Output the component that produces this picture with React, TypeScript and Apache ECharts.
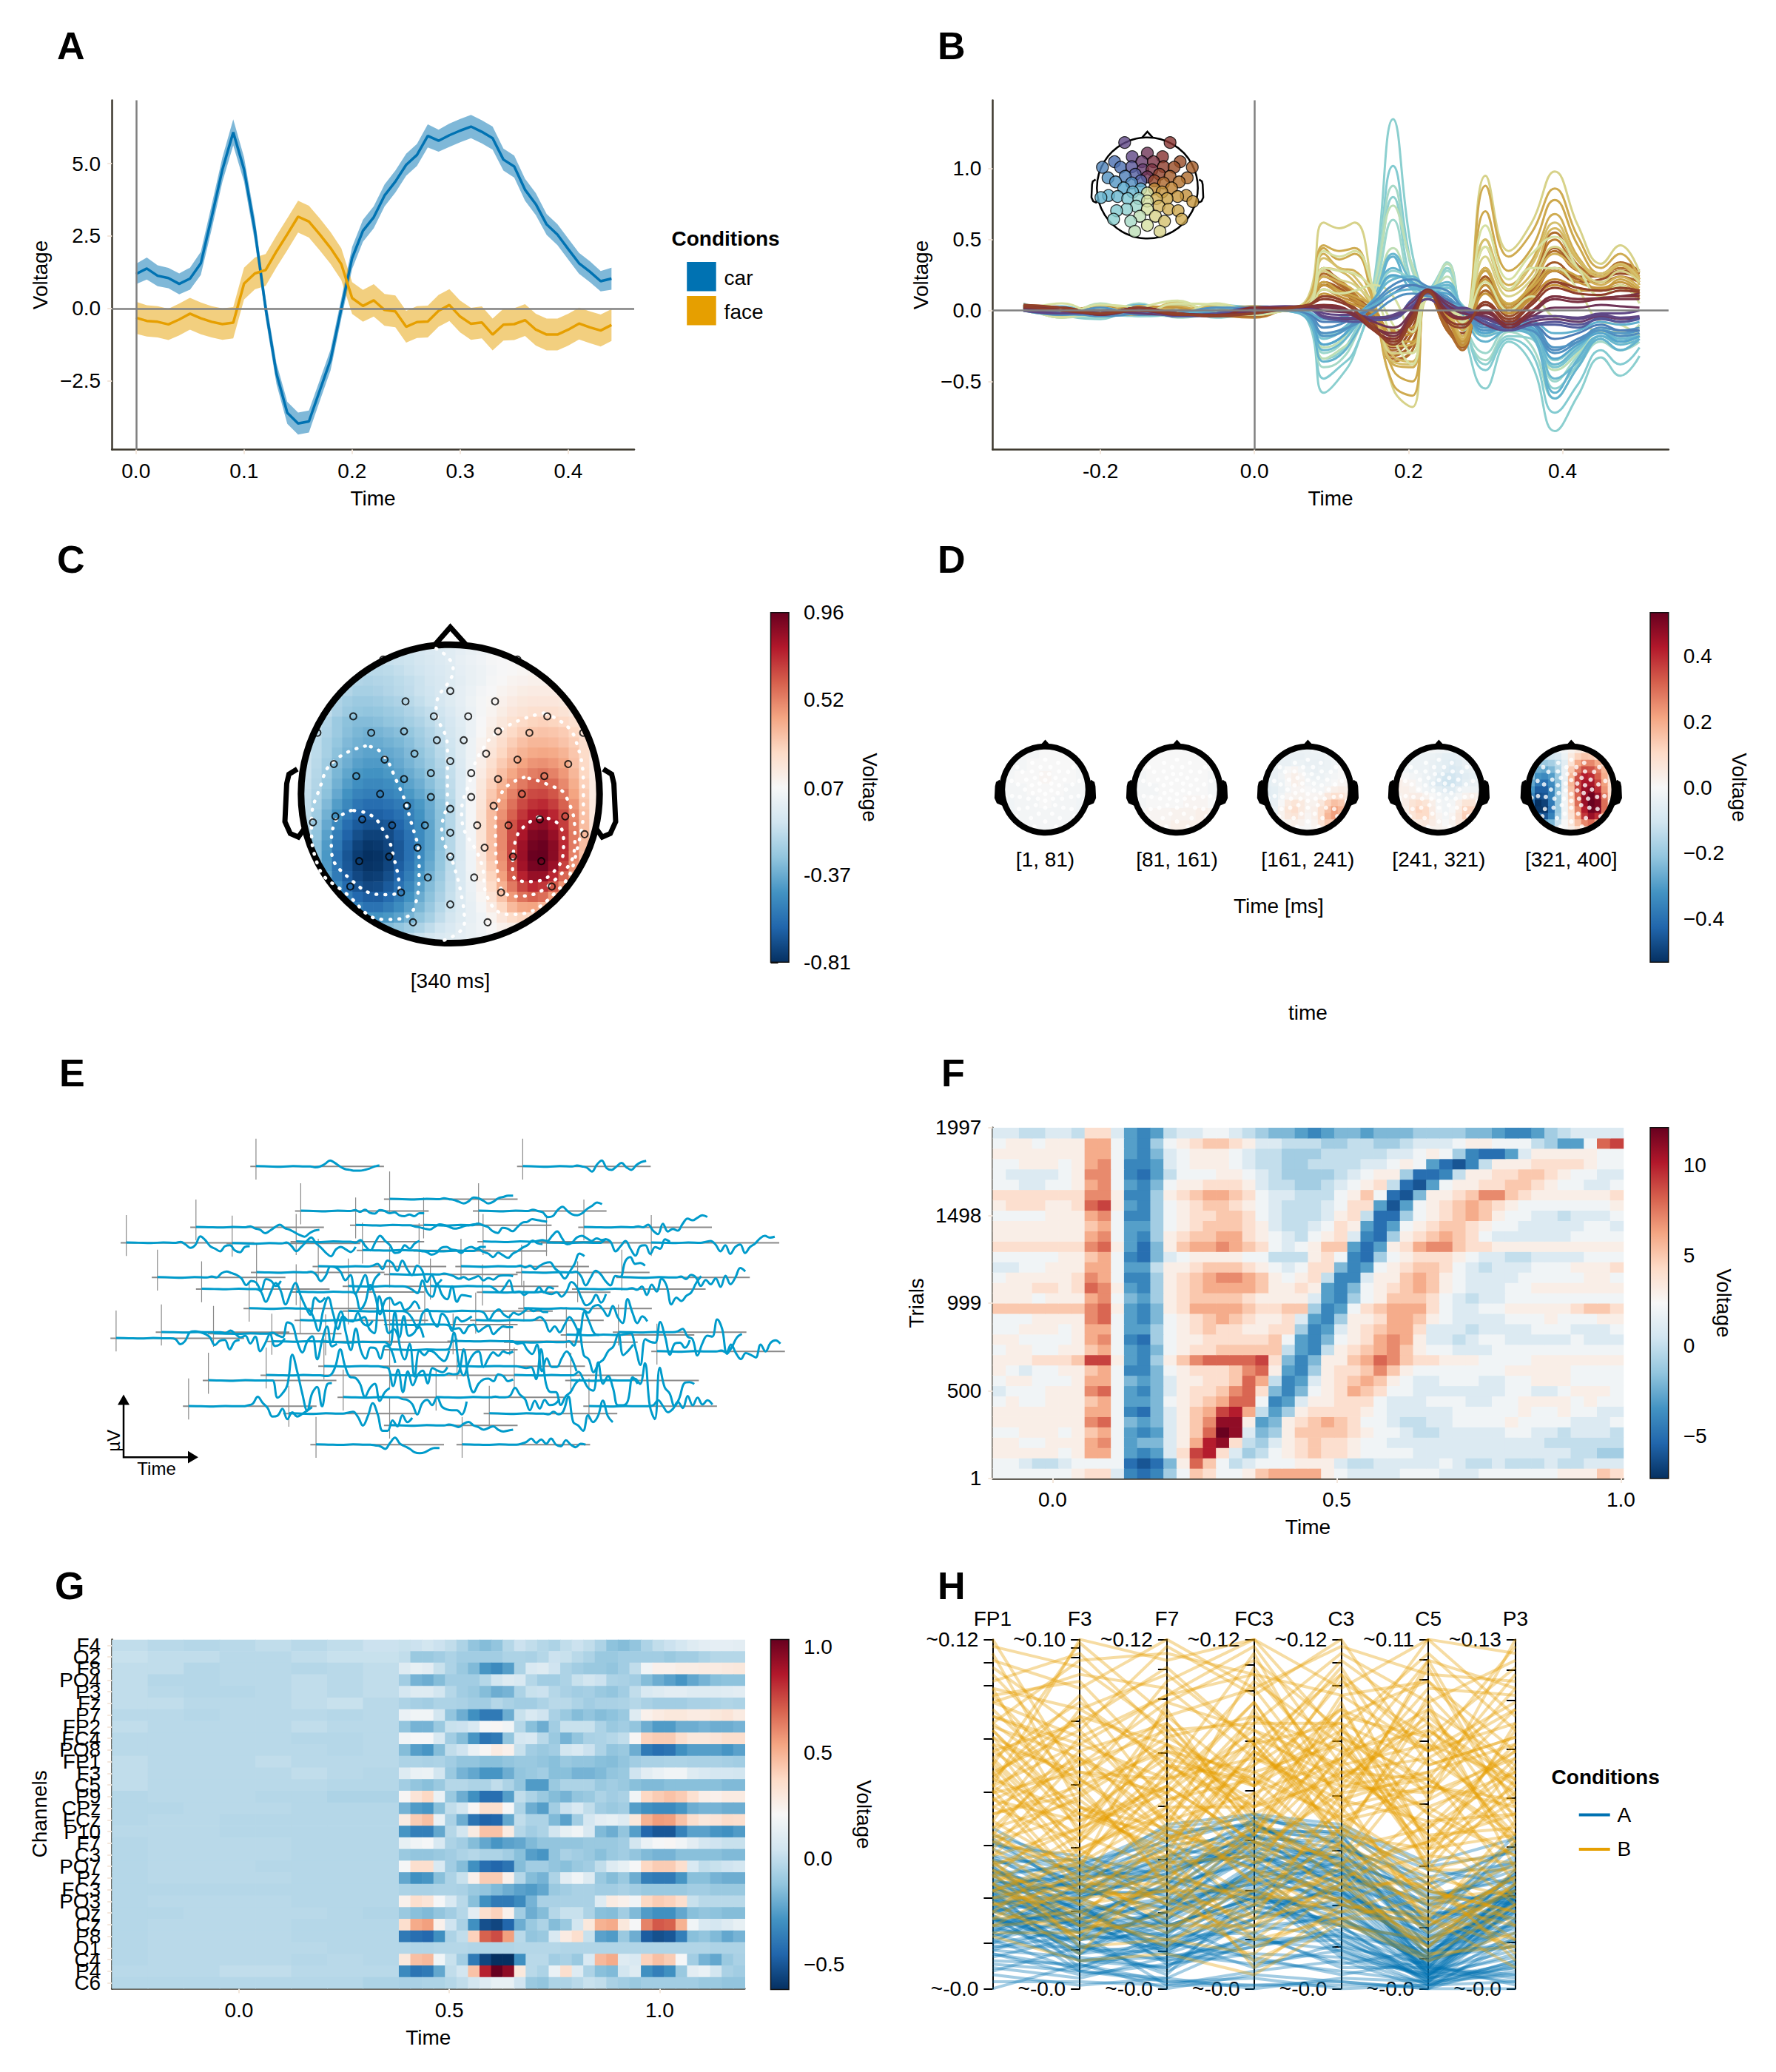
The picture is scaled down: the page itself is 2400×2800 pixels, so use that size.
import React, { useEffect, useRef } from "react";
import * as echarts from "echarts";

const FONT = "Liberation Sans";
const BLUE = "#0072B2";
const ORANGE = "#E69F00";
const RDBU = ["#053061","#2166ac","#4393c3","#92c5de","#d1e5f0","#f7f7f7","#fddbc7","#f4a582","#d6604d","#b2182b","#67001f"];

// ---------- A ----------
const A_TIME = [0,0.01,0.02,0.03,0.04,0.05,0.06,0.07,0.08,0.09,0.1,0.11,0.12,0.13,0.14,0.15,0.16,0.17,0.18,0.19,0.2,0.21,0.22,0.23,0.24,0.25,0.26,0.27,0.28,0.29,0.3,0.31,0.32,0.33,0.34,0.35,0.36,0.37,0.38,0.39,0.4,0.41,0.42,0.43,0.44];
const CAR_MEAN = [1.19,1.38,1.13,1.05,0.85,1.03,1.56,3.15,4.8,6.08,4.8,2.7,0,-2.25,-3.6,-3.97,-3.9,-2.84,-1.78,0,1.74,2.68,3.15,3.9,4.38,4.96,5.3,5.96,5.79,5.98,6.14,6.28,6.1,5.88,5.14,4.9,4.1,3.6,2.9,2.55,2.05,1.56,1.27,0.94,1.03];
const CAR_SE = [0.35,0.38,0.36,0.35,0.36,0.38,0.4,0.42,0.42,0.45,0.42,0.4,0.35,0.36,0.38,0.38,0.38,0.36,0.36,0.35,0.38,0.38,0.38,0.38,0.38,0.38,0.38,0.4,0.38,0.4,0.4,0.4,0.4,0.4,0.38,0.38,0.38,0.38,0.36,0.36,0.36,0.36,0.36,0.35,0.38];
const FACE_MEAN = [-0.32,-0.43,-0.46,-0.55,-0.38,-0.18,-0.34,-0.46,-0.54,-0.49,0.86,1.21,1.33,1.97,2.56,3.17,3,2.56,2.09,1.53,0.36,0.09,0.28,-0.05,-0.1,-0.63,-0.47,-0.45,-0.08,0.12,-0.28,-0.53,-0.48,-0.9,-0.56,-0.54,-0.4,-0.73,-0.9,-0.9,-0.73,-0.52,-0.65,-0.76,-0.57];
const FACE_SE = [0.55,0.54,0.54,0.54,0.55,0.55,0.55,0.54,0.54,0.54,0.55,0.55,0.55,0.55,0.55,0.55,0.55,0.55,0.55,0.55,0.55,0.55,0.56,0.55,0.55,0.55,0.55,0.55,0.55,0.55,0.55,0.55,0.55,0.55,0.55,0.55,0.55,0.55,0.55,0.55,0.55,0.55,0.55,0.55,0.55];

// ---------- electrode montage (head units, percent of radius) ----------
const ELEC_X = [0,-30,30,-11,12,-65,65,-89,-53,-31,32,53,89,-9,9,-24,24,-44,45,0,-78,79,-63,-13,14,63,-31,32,-47,48,-13,14,-29,29,0,-77,77,-59,60,-39,39,-17,18,-92,90,0,-22,23,-41,42,0,-61,61,-15,16,-67,68,-33,34,0,-25,25,-45,45];
const ELEC_Y = [69,62,62,52,52,52,52,41,41,42,42,41,41,36,36,27,27,23,23,22,20,20,12,14,14,12,10,10,0,0,-2,-2,-8,-8,-10,-15,-15,-17,-17,-21,-21,-21,-21,-19,-27,-26,-36,-36,-42,-42,-42,-45,-45,-56,-56,-62,-62,-66,-66,-74,-86,-86,90,90];

// ---------- B ----------
const B_TIME = [-0.3,-0.25,-0.2,-0.15,-0.1,-0.05,0,0.04,0.07,0.09,0.11,0.13,0.155,0.18,0.205,0.225,0.25,0.27,0.3,0.33,0.36,0.39,0.42,0.45,0.475,0.5];
const B_CHANNEL = [56,52,58,49,61,47,54,38,36,44,42,40, 12,19,26,30,13,22,28,25, 62,57,53,50,59,48,55,43,41,39,37,45,60,51,46, 33,29,27,23,21,18,31, 16,14,10,2,63, 1,5,3,15,11,17];
const B_ROWS = [
[5,-3,-6,3,-4,2,-2,0,-8,-58,-48,-30,20,135,40,15,33,-10,-55,-22,-38,-85,-60,-33,-46,-32],
[3,-5,2,-4,-2,4,2,0,-7,-48,-40,-28,15,102,30,12,30,-5,-42,-20,-30,-72,-52,-28,-38,-26],
[2,-2,-4,5,-5,-2,1,1,-7,-40,-36,-20,18,88,28,14,34,-8,-35,-15,-25,-62,-40,-22,-28,-22],
[4,0,-2,-4,2,-5,-2,0,-6,-34,-30,-15,14,80,18,10,30,-5,-38,-18,-20,-55,-38,-20,-28,-18],
[4,-4,5,-2,4,0,-3,1,-6,-34,-28,-18,16,74,32,12,33,-2,-18,-8,-18,-42,-30,-12,-18,-10],
[2,-2,-5,2,-4,2,0,0,-5,-30,-25,-10,12,64,15,10,28,-6,-30,-12,-15,-50,-32,-18,-20,-16],
[3,-5,-2,0,-2,-3,-2,1,-5,-26,-22,-8,12,44,18,14,24,-4,-18,-8,-12,-40,-28,-15,-24,-16],
[0,-3,-2,4,-4,2,3,1,-6,-28,-24,-12,8,40,20,16,20,2,-18,-14,-14,-48,-36,-18,-24,-20],
[2,-2,-3,0,-4,3,0,0,-5,-24,-20,-10,6,38,16,16,18,0,-16,-12,-16,-58,-34,-18,-22,-18],
[2,3,-4,-2,2,-2,2,0,-7,-36,-32,-18,8,30,18,12,16,-2,-22,-14,-18,-62,-40,-20,-28,-20],
[3,-3,0,-2,-4,0,2,1,-4,-18,-15,-6,8,28,22,16,14,4,-12,-10,-12,-35,-24,-12,-18,-14],
[0,-2,-3,2,-3,-2,-3,0,-4,-20,-16,-7,6,24,24,15,16,2,-12,-8,-12,-40,-28,-14,-20,-16],
[3,0,-2,2,-2,-3,-3,2,4,18,15,6,-8,-26,-12,14,-14,-20,14,-4,10,28,20,22,26,24],
[4,0,-3,2,0,-3,-4,1,4,20,16,8,-6,-30,-16,13,-12,-22,18,-2,14,34,24,24,28,26],
[4,2,-2,3,-2,-2,-4,1,5,24,18,10,-4,-32,-22,12,-14,-24,24,0,16,42,28,26,30,26],
[3,2,-2,0,0,-3,-5,1,5,28,22,12,-4,-36,-28,12,-10,-26,30,2,20,50,30,26,32,28],
[4,0,-3,2,-2,-4,-3,1,6,30,20,10,-2,-30,-24,14,-10,-26,24,0,18,44,28,24,28,22],
[3,0,0,2,-2,-3,-4,1,5,26,20,10,-6,-34,-28,13,-12,-28,30,2,20,55,32,26,34,28],
[2,2,-2,0,-2,-3,-3,1,4,18,14,6,-8,-28,-16,13,-14,-22,14,-2,12,30,22,20,24,20],
[2,0,-2,2,-3,-3,-3,1,3,10,8,2,-10,-22,-8,14,-6,-16,6,-6,6,20,14,14,16,14],
[3,-4,2,-2,5,-2,0,1,10,62,58,62,10,-55,-68,8,2,-8,95,42,62,98,60,33,46,27],
[4,-2,0,2,3,-3,2,0,8,46,42,44,4,-52,-60,12,0,-10,88,38,55,86,52,30,40,22],
[2,-3,3,0,-2,-3,-2,1,6,44,36,40,5,-42,-50,14,-2,-14,70,28,44,78,46,26,33,20],
[3,0,-2,2,0,-4,2,0,7,40,30,28,6,-38,-40,15,0,-18,50,18,35,68,38,24,32,24],
[4,-3,2,-2,6,-2,-3,1,5,37,30,24,2,-36,-38,13,2,-20,50,15,32,62,36,26,33,22],
[2,-2,-3,3,2,-3,-2,0,5,30,28,20,0,-32,-36,14,3,-22,45,14,26,58,35,24,32,18],
[0,-3,3,2,-2,0,-3,1,6,28,22,18,3,-30,-30,15,-3,-24,38,10,22,45,30,20,28,20],
[3,2,-2,-3,0,3,-2,0,4,24,20,14,0,-25,-24,12,-2,-20,30,5,18,40,28,18,24,16],
[2,-2,0,0,-3,2,0,2,5,20,14,10,2,-20,-22,14,-4,-22,28,4,16,30,24,14,22,14],
[4,-2,-2,3,2,-3,0,1,4,18,12,8,-2,-18,-16,12,-5,-25,22,2,12,28,20,16,20,12],
[2,0,3,-2,0,-2,2,0,3,15,10,6,0,-15,-15,11,-6,-24,18,0,10,22,16,14,18,10],
[3,-2,0,2,-3,0,3,1,3,12,8,4,-2,-14,-12,10,-6,-22,12,-2,8,18,14,15,16,8],
[0,5,-3,2,7,-3,-2,1,4,42,38,42,15,-20,-38,8,5,-5,60,22,40,52,30,10,18,5],
[3,-5,2,-2,5,4,-3,0,3,30,28,26,14,-10,-30,10,4,-8,45,15,30,30,15,-8,-10,-18],
[2,-2,4,2,-2,5,0,0,2,15,12,14,18,10,-15,12,8,-8,20,0,10,-5,-8,-15,-15,-12],
[2,-2,-3,0,-2,2,0,2,-3,-16,-14,-5,8,22,24,16,18,3,-14,-10,-14,-38,-26,-14,-20,-18],
[3,-3,-2,2,-3,0,-2,1,-4,-24,-20,-8,8,25,20,14,12,2,-16,-10,-12,-34,-24,-16,-22,-18],
[2,0,-4,-2,0,-2,2,1,-2,-12,-10,-4,6,18,22,17,14,2,-10,-8,-10,-28,-20,-14,-18,-16],
[4,-2,-3,2,-2,-3,0,0,-3,-18,-16,-8,4,15,18,14,10,0,-14,-12,-10,-26,-22,-14,-16,-14],
[0,-3,2,-3,-2,2,2,1,-3,-16,-14,-10,-2,8,12,10,8,0,-12,-12,-14,-30,-22,-12,-14,-12],
[2,-2,0,0,-4,-2,2,2,-2,-8,-8,-4,2,12,18,15,8,0,-8,-12,-10,-20,-16,-10,-14,-14],
[3,-2,-2,2,-2,0,-2,1,-1,-6,-5,-2,4,12,15,15,6,2,-6,-8,-8,-16,-14,-8,-10,-8],
[0,-2,-2,2,-4,-3,0,2,1,-5,-6,-5,-5,-5,8,14,4,0,-8,-12,-10,-10,-12,-5,-8,-6],
[2,-2,0,-2,-3,-3,2,3,2,-4,-6,-6,-6,-4,6,14,6,0,-10,-14,-8,-6,-8,-4,-6,-5],
[2,0,-3,0,-4,-2,2,2,2,-5,-7,-8,-7,-6,4,12,3,1,-8,-14,-10,-8,-10,-6,-8,-5],
[0,-2,-2,2,-3,-4,2,3,3,-2,-3,-3,-5,-4,2,8,1,2,-6,-10,-6,-4,-6,-3,-5,-4],
[2,0,-2,0,-3,-3,2,2,2,-4,-5,-5,-5,-3,3,8,2,1,-5,-8,-4,-4,-5,-2,-2,0],
[2,0,-2,2,-2,-3,0,2,3,0,-1,-2,-8,-12,0,14,4,-2,-4,-10,-4,2,2,4,3,2],
[3,2,-2,0,-3,-3,-2,2,3,2,1,-4,-12,-18,0,15,0,-5,-2,-12,-2,8,6,8,8,8],
[2,2,-3,2,-2,-4,2,2,3,4,3,-3,-14,-20,-2,14,-2,-6,0,-10,0,10,8,8,10,10],
[3,2,-3,0,-2,-3,-2,2,3,3,2,-3,-12,-16,-1,14,0,-5,-1,-12,-2,10,8,9,10,12],
[3,0,-2,2,-3,-3,-2,2,4,8,6,0,-14,-22,-4,14,-6,-10,4,-8,4,16,12,11,14,13],
[4,2,-2,0,-2,-4,-2,1,4,10,8,0,-12,-24,-6,13,-8,-12,6,-6,6,20,16,14,16,14],
];

// ---------- C ----------
const C_TOPO = [
[-10,-9,-8,-6,-5,-3,-1,1,3,4,5],
[-14,-13,-12,-11,-9,-7,-5,-3,0,2,4,6,7,8,9],
[-17,-17,-17,-16,-14,-12,-10,-8,-6,-4,-1,1,3,5,7,8,9,10,10],
[-17,-19,-20,-19,-18,-16,-14,-12,-9,-7,-4,-2,1,3,6,8,10,11,12,12,12],
[-16,-19,-22,-22,-21,-19,-17,-15,-12,-10,-7,-4,-1,2,5,7,10,12,14,15,15,15,14],
[-15,-20,-23,-25,-25,-24,-22,-20,-17,-14,-11,-8,-4,-1,3,6,9,12,15,17,18,18,18,17,15],
[-15,-21,-25,-27,-28,-27,-25,-23,-20,-17,-14,-10,-6,-2,2,6,10,14,18,20,22,22,22,20,17],
[-14,-19,-25,-29,-31,-31,-30,-28,-26,-23,-20,-16,-12,-8,-3,2,7,12,17,21,25,27,28,27,25,22,18],
[-14,-20,-25,-30,-33,-35,-34,-32,-30,-27,-23,-19,-14,-9,-4,2,8,14,20,25,29,32,33,32,30,26,20],
[-11,-16,-22,-27,-32,-35,-37,-37,-35,-33,-30,-25,-21,-15,-10,-4,3,10,17,23,29,34,37,37,36,33,29,23,15],
[-11,-16,-22,-29,-34,-38,-40,-40,-38,-36,-32,-28,-23,-17,-11,-4,3,11,19,26,33,38,41,42,41,38,32,24,15],
[-12,-17,-24,-31,-36,-41,-43,-43,-41,-38,-34,-30,-25,-19,-13,-5,3,13,22,30,37,43,47,48,46,42,34,25,15],
[-12,-18,-25,-33,-39,-44,-46,-46,-44,-41,-37,-33,-27,-21,-14,-6,4,15,25,34,42,48,53,55,52,46,37,26,15],
[-13,-19,-27,-35,-42,-47,-50,-50,-48,-45,-40,-36,-30,-23,-15,-6,5,17,28,38,47,54,60,61,58,50,40,28,16],
[-14,-20,-29,-38,-46,-52,-54,-54,-52,-49,-44,-39,-33,-25,-16,-6,6,18,31,42,52,60,66,67,63,55,43,30,16],
[-15,-22,-32,-42,-50,-57,-60,-60,-58,-55,-50,-44,-37,-28,-18,-6,6,19,33,45,56,66,72,74,69,60,47,32,17],
[-16,-24,-35,-46,-55,-62,-65,-65,-63,-59,-53,-46,-38,-29,-18,-7,6,20,35,48,60,71,79,81,75,65,50,34,17],
[-17,-26,-38,-50,-60,-67,-70,-70,-68,-63,-56,-48,-39,-29,-18,-7,6,20,35,50,64,76,85,87,81,69,52,35,18],
[-18,-28,-41,-54,-64,-71,-75,-75,-72,-66,-58,-49,-40,-29,-18,-7,5,20,35,50,66,80,90,92,85,72,54,36,18],
[-18,-30,-43,-56,-67,-75,-79,-78,-74,-68,-59,-50,-40,-29,-18,-7,5,19,34,50,67,83,93,95,88,74,54,35,17],
[-30,-44,-58,-69,-77,-81,-80,-75,-68,-59,-49,-39,-28,-17,-7,4,18,33,49,67,84,95,96,88,73,52,33],
[-28,-43,-57,-68,-76,-80,-79,-74,-66,-57,-47,-37,-27,-16,-6,4,16,30,47,65,82,92,93,84,68,48,30],
[-40,-55,-66,-73,-77,-76,-71,-63,-54,-44,-34,-25,-15,-6,3,14,27,44,61,76,85,85,75,59,40],
[-34,-49,-61,-69,-73,-72,-67,-59,-50,-41,-31,-23,-14,-6,2,11,24,39,54,67,74,71,62,47,30],
[-42,-54,-62,-66,-66,-61,-54,-46,-37,-29,-21,-13,-5,1,9,20,33,46,56,60,57,45,30],
[-44,-53,-58,-58,-54,-48,-41,-33,-26,-18,-11,-5,0,6,15,26,36,42,43,36,25],
[-40,-45,-46,-44,-40,-34,-28,-22,-15,-9,-4,0,4,10,18,24,27,26,18],
[-30,-31,-28,-24,-20,-15,-10,-6,-2,1,4,8,12,14,13],
[-16,-15,-12,-9,-6,-4,-1,1,3,5,6],
];
const C_TICKS = [0.96,0.52,0.07,-0.37,-0.81];
const C_CONTOURS = [
[[645,645],[590,690],[565,770],[550,880],[560,1000],[610,1090],[680,1170],[730,1140],[740,1000],[725,870],[700,750],[670,660],[645,645]],
[[620,840],[590,880],[585,950],[620,1050],[680,1095],[705,1080],[695,980],[680,910],[650,850],[620,840]],
[[770,350],[800,410],[770,530],[790,650],[790,800],[780,900],[800,1000],[815,1100],[820,1180],[780,1235]],
[[960,545],[890,590],[850,660],[830,750],[815,850],[850,1000],[860,1100],[900,1155],[980,1090],[1020,950],[1030,800],[1015,620],[960,545]],
[[925,740],[885,790],[875,900],[880,1050],[910,1100],[980,1050],[1015,930],[1000,800],[965,760],[925,740]],
[[950,860],[910,930],[905,1030],[930,1055],[975,1030],[995,940],[985,880],[950,860]],
];

// ---------- D ----------
const D_LABELS = ["[1, 81)","[81, 161)","[161, 241)","[241, 321)","[321, 400]"];
const D_TICKS = [-0.4,-0.2,0,0.2,0.4];
const D_TOPO_1 = [[-1,-1,0,0,0],[-1,-1,0,0,0,0,-1],[-1,0,0,1,0,0,-1],[-1,-1,0,0,0,-1,-1],[-2,-1,-1,0,-1,-1,-2],[-2,-1,-1,-1,-1,-1,-2],[-1,-1,-1,-1,-1]];
const D_TOPO_2 = [[0,0,0,0,0],[0,0,0,0,0,0,0],[-1,0,0,0,0,0,-1],[-1,-1,0,0,0,0,-1],[-1,0,0,0,1,1,0],[0,1,1,2,2,3,2],[1,2,3,3,3]];
const D_TOPO_3 = [
[-2,-3,-3,-3,-2,-2,-1],[-3,-4,-4,-4,-3,-3,-3,-2,-1],[-3,-4,-4,-3,-3,-4,-4,-4,-3,-2,0],
[-3,-4,-3,0,1,-1,-3,-4,-3,-3,-2,0,0],[-4,-4,-2,1,3,1,-2,-3,-3,-2,-1,0,0],[-5,-4,-3,0,3,2,-1,-2,-2,-1,0,1,1],
[-6,-5,-3,-1,1,1,0,-1,-1,1,3,4,3],[-6,-5,-2,1,2,2,1,1,2,6,9,8,5],[-6,-4,0,5,7,5,2,2,6,12,16,14,8],
[-6,-3,2,7,9,5,2,3,9,16,22,18,10],[-3,2,6,7,4,1,3,9,18,22,16],[0,2,3,2,0,2,8,14,14],[-1,0,0,0,1,4,6]];
const D_TOPO_4 = [
[0,-1,-1,-2,-2,-2,-2],[-2,-3,-3,-3,-4,-5,-5,-4,-3],[-2,-3,-3,-3,-4,-5,-6,-7,-6,-4,-3],
[0,-2,-3,-3,-3,-4,-5,-7,-8,-7,-5,-4,-3],[1,0,-1,-2,-3,-4,-7,-10,-10,-8,-6,-5,-4],[3,2,1,-1,-3,-5,-8,-11,-11,-8,-5,-4,-3],
[3,3,2,0,-2,-3,-5,-7,-7,-4,-2,-2,-2],[2,3,4,4,2,0,-2,-3,-3,-1,2,3,2],[1,4,7,9,7,3,-1,-2,-1,3,7,7,4],
[0,3,8,12,10,4,0,-2,0,5,12,12,5],[2,7,10,10,5,1,-1,1,6,13,9],[3,5,6,4,2,0,2,6,7],[1,2,2,2,1,2,2]];
const D_TOPO_5 = [
[-5,-3,-1,2,5,7,8],[-12,-10,-8,-3,5,12,15,14,10],[-18,-20,-18,-14,-6,8,20,26,26,20,12],
[-18,-26,-28,-24,-16,-4,14,28,35,34,28,18,8],[-22,-32,-34,-30,-20,-4,18,35,42,40,32,20,8],[-28,-38,-40,-34,-22,-5,18,36,44,44,36,22,8],
[-32,-44,-44,-36,-22,-4,16,36,46,48,40,24,8],[-36,-48,-46,-36,-20,-2,14,32,46,52,46,28,10],[-40,-53,-50,-38,-20,-2,12,30,46,53,50,30,10],
[-38,-52,-52,-40,-20,-2,10,26,42,52,50,30,10],[-40,-46,-36,-18,-2,8,22,38,46,40,20],[-26,-24,-12,0,6,16,26,30,20],[-8,-4,0,3,8,12,10]];

// ---------- E ----------
const E_BASELINE_T = [0,0.1,0.2,0.3,0.4];
const E_BASELINE = [1,0,-1,1,0];
const E_POST_T = [0.44,0.48,0.52,0.56,0.6,0.64,0.68,0.72,0.76,0.8,0.84,0.88,0.92,0.96,1];
const E_ORIGIN_X = [452,923,688,531,845,346,628,748,1031,223,410,523,853,965,1150,640,740,278,453,562,814,921,1098,688,356,615,760,852,1020,523,440,615,750,925,530,840,688,205,285,377,480,575,800,900,1000,1092,1160,688,572,807,368,470,688,908,1008,606,770,333,1040,510,864,688,558,816];
const E_ORIGIN_Y = [350,350,449,485,485,534,528,528,534,581,583,578,578,581,581,604,606,686,671,653,653,671,686,677,721,713,713,731,721,730,780,788,788,780,816,816,829,870,852,856,880,882,879,882,860,852,910,905,955,955,998,982,982,982,998,1049,1049,1076,1076,1098,1098,1134,1192,1192];
const E_TRACES = [
[0,-2,0,6,14,8,0,-6,-8,-10,-10,-8,-5,0,2],[2,0,-3,-12,4,14,-4,-8,0,8,-2,-8,3,10,13],[2,0,-2,-6,-10,-5,4,2,-4,-10,-6,2,5,8,8],
[2,-2,3,-4,-6,2,0,-5,-3,-10,-12,-8,-12,-5,-5],[3,0,-3,-14,-12,2,10,0,-8,-10,-5,5,12,20,16],[2,-3,-6,-14,-8,0,6,-2,-6,-12,-18,-22,-14,-8,-6],
[0,-3,-5,-8,-10,-4,2,0,-4,-8,-6,-2,0,2,3],[4,0,-4,-14,-18,-6,-8,-14,-4,6,8,14,12,10,8],[2,0,6,-8,-16,8,-10,-4,-8,8,20,16,22,28,24],
[2,-4,-12,-5,15,6,-8,-14,-20,-8,-6,-18,-22,-10,-8],[2,-6,-18,-8,4,14,0,-10,-22,-30,-14,-8,-14,-20,-8],[0,-2,4,-10,-20,-2,14,2,-8,-26,-24,-8,-16,-4,2],
[2,4,2,14,24,8,-6,-2,10,14,8,2,8,4,6],[0,8,2,-20,-8,4,-14,-30,-8,-6,-26,-10,-14,8,2],[2,4,-4,-20,-6,-26,-10,-4,-24,-10,-2,10,16,12,14],
[0,-2,-4,-10,-6,6,8,2,0,-6,4,8,4,8,8],[0,4,-2,-6,-14,-4,-10,-16,-6,0,8,14,24,18,16],[2,0,10,14,10,6,-2,-18,-8,-12,-30,-4,-8,-20,-8],
[2,-4,-20,-8,14,12,2,-18,-6,-50,-30,-6,-40,-14,-2],[2,6,-6,14,8,-10,14,-6,-20,2,-8,-36,-20,-40,-30],[0,2,-2,2,-6,2,8,10,-4,-14,-28,-12,6,30,24],
[2,-8,-30,-12,4,-4,-20,-30,-8,-10,26,36,20,22,16],[0,2,-4,6,0,-20,-6,-16,-2,-22,4,-16,0,22,14],[2,0,-4,-10,-6,-12,-8,-4,-14,-8,-12,-4,-2,-2,-4],
[0,-6,-30,-8,14,-4,-36,-10,14,-14,-40,-60,-20,-30,-20],[0,-2,-8,-16,14,-14,-24,6,-20,-30,0,-36,-20,-22,-24],[0,0,-6,-14,-2,14,-14,-12,-20,-14,-14,-2,-14,-2,-6],
[0,2,-2,-4,0,-10,2,24,14,-12,-30,-24,-6,-24,-4],[2,-2,6,-14,10,-6,24,8,-36,-20,-28,-16,-8,14,30],[0,-4,-40,-24,16,-10,-52,-20,-14,-30,-24,-42,-36,-22,-40],
[0,-2,-20,-52,-4,26,-12,-48,-18,-28,-30,-10,-34,-40,-28],[0,-4,-18,-40,-6,4,-20,-36,-6,-18,-46,-14,-24,-20,-12],[0,-4,-20,-4,4,-8,-14,-4,-8,-2,6,0,4,-2,-2],
[0,-2,-10,4,8,-2,-18,6,-20,-34,22,-10,-34,-18,-30],[0,2,8,-20,-30,56,14,-30,-20,-40,10,-36,-30,-14,-40],[0,2,8,-2,-26,-14,-28,-10,8,-8,-30,20,-4,-30,-34],
[0,-2,-10,-8,-20,-4,0,-16,-8,-2,-22,-12,-4,-6,-6],[0,-2,-14,-6,14,16,14,10,2,-16,-6,-4,-26,-8,-4],[0,0,-2,4,-4,-12,-8,-26,-10,-44,-26,-4,-32,-28,-14],
[0,2,-4,-8,26,20,-20,-44,-18,-6,-60,-16,16,-30,-24],[0,-2,40,70,20,-20,30,-20,-40,-14,-16,-40,-10,-16,-50],[0,0,-8,70,-8,-40,-4,-80,-20,-30,-20,-24,-36,-44,-20],
[0,0,-6,-4,-20,-30,-8,-70,-40,-60,-60,-40,-24,-40,-70],[0,2,-8,30,-30,-40,-70,-50,-40,-20,-10,20,-30,-20,-6],[0,2,4,-30,-70,-10,-16,-18,30,-4,-46,-20,-18,-30,-12],
[0,2,8,-10,-16,-54,-26,-8,-10,30,8,-50,-34,-12,-4],[0,0,2,-2,16,-4,-18,-4,-8,-14,16,0,20,26,18],[0,2,40,-30,-60,-30,-10,-4,-40,-20,-6,-14,-4,-8,-4],
[0,-2,-4,-46,-8,-60,-12,-44,-20,-10,-40,-4,-10,-14,-2],[0,0,-2,-4,-2,-30,40,-40,-60,-60,-90,-70,-60,-40,-30],[0,0,0,-40,-30,-10,60,20,-30,-70,-30,-15,-60,-10,-6],
[0,-2,0,20,60,20,-4,-6,-20,-50,-30,-20,-60,-40,-30],[0,4,2,6,60,-10,-40,-20,-10,-8,-14,2,-2,-14,-10],[0,0,8,-10,-30,-36,30,-20,-2,-30,-70,-70,-60,-5,-20],
[0,0,4,-8,40,-60,-90,30,-16,-30,-60,-40,-6,-4,-8],[0,-4,-6,-16,-40,-14,-6,-18,0,-22,-28,-30,-30,-40,-10],[0,2,0,0,4,22,6,-4,-30,-8,-26,-6,-18,-16,-4],
[0,2,6,22,8,-4,-24,-22,-6,-30,-14,-24,-18,-10,-2],[0,0,2,14,0,-14,-6,10,-4,24,2,20,4,14,4],[0,2,4,-8,-28,-6,24,-2,-40,-40,-16,-30,-4,-20,-10],
[0,-2,4,-2,6,40,-20,-28,-40,-4,-20,-6,30,-6,-20],[0,2,0,-4,4,8,0,-4,-10,-6,-2,-10,-14,-12,-10],[0,-2,-4,-10,4,16,2,-4,-10,-18,-20,-18,-12,-8,-8],
[0,2,6,14,4,12,2,14,0,-4,10,0,-6,2,0],
];

// ---------- F (rows from trial 1 upward) ----------
const F_TRIALS = [
[2,2,2,2,2,2,3,4,4,1,-4,-5,-4,-1,2,5,4,2,2,3,5,6,6,6,6,3,2,1,1,1,1,2,2,2,1,1,1,2,2,2,2,2,2,3,3,3,5,4],
[2,2,1,0,0,1,2,2,2,2,-5,-6,-5,-2,3,8,5,2,0,1,2,2,2,3,3,3,1,0,0,1,1,1,1,1,2,1,0,0,1,0,0,0,1,0,0,1,1,1],
[3,3,3,3,3,2,3,6,6,2,-3,-4,-3,1,4,9,10,4,1,-1,0,2,3,4,5,4,4,3,2,2,2,2,1,1,1,1,1,1,1,1,1,1,1,1,0,0,-1,-1],
[3,3,2,2,3,3,3,6,7,2,-3,-2,-2,1,3,6,10,11,4,0,-1,1,3,4,5,4,4,3,2,2,1,1,1,1,1,1,1,1,1,1,1,1,0,0,0,0,0,0],
[2,2,3,3,3,2,3,5,6,2,-3,-4,-3,1,3,5,8,12,11,1,-2,-1,3,5,5,5,5,4,3,2,2,1,0,0,1,1,1,1,1,2,2,1,1,0,1,1,1,0],
[3,3,3,3,3,3,3,7,8,2,-2,-3,-2,1,3,5,7,11,11,3,-3,-2,3,4,5,6,5,4,2,2,1,0,0,1,1,2,2,2,2,3,2,2,2,2,1,1,1,2],
[3,3,3,3,3,3,3,6,6,2,-4,-5,-2,1,3,5,6,9,10,6,0,-3,-1,3,4,4,4,4,3,2,1,1,1,1,1,2,2,2,2,2,3,2,2,3,2,2,1,1],
[2,3,2,2,3,3,3,5,6,2,-3,-3,-2,2,3,4,5,6,8,8,2,-4,-3,1,3,3,4,4,4,2,1,1,1,2,2,2,1,1,2,2,3,3,3,3,2,3,2,2],
[1,2,2,2,3,3,3,7,8,2,-3,-4,-2,1,3,4,4,5,7,8,4,-2,-4,-2,2,3,4,6,5,4,2,2,1,1,1,1,1,1,1,2,2,1,1,2,3,3,3,2],
[2,3,3,2,2,2,3,6,6,2,-2,-3,-2,1,3,3,4,4,5,8,6,0,-4,-3,1,3,4,5,6,5,3,2,1,1,2,2,2,1,1,2,2,3,3,3,2,2,2,2],
[3,2,1,2,2,3,3,5,6,2,-4,-4,-2,2,3,4,4,4,5,7,8,3,-3,-4,-1,3,4,4,5,7,5,3,2,2,2,2,2,2,2,3,3,3,3,3,2,2,2,2],
[3,3,3,4,4,4,5,9,9,3,-3,-4,-1,3,5,7,8,8,8,8,9,4,-2,-4,-2,3,3,5,6,8,7,5,4,4,3,3,3,2,2,2,2,3,3,3,3,3,3,3],
[2,3,3,2,2,3,3,5,6,2,-3,-4,-2,2,3,4,4,5,5,5,5,5,0,-3,-4,0,3,4,5,6,7,5,3,2,2,1,1,1,2,2,2,2,2,2,2,2,2,2],
[3,3,2,2,2,2,3,6,7,2,-4,-5,-1,2,3,3,4,4,4,4,4,5,2,-3,-4,-2,2,3,4,6,7,6,3,1,1,0,1,2,2,1,1,1,1,1,2,1,1,1],
[2,2,3,3,3,2,3,6,6,2,-3,-3,-1,2,3,4,5,4,4,3,3,4,4,-1,-4,-3,1,3,4,5,6,6,4,1,1,1,0,1,1,1,1,2,2,2,1,1,1,2],
[2,2,2,3,3,3,3,7,8,2,-3,-4,-2,2,3,4,5,6,5,4,3,3,4,1,-3,-4,-1,3,3,4,6,6,5,3,2,1,1,1,1,2,2,2,3,2,2,2,3,3],
[5,5,5,5,5,5,5,7,8,3,-3,-4,-2,3,4,6,6,6,6,5,4,4,5,5,-1,-4,-3,2,4,5,6,6,6,4,2,1,1,2,2,3,3,3,3,3,4,5,5,4],
[3,3,3,2,3,3,3,6,7,2,-2,-3,-1,3,4,5,5,5,5,4,3,3,3,3,1,-3,-4,-1,2,3,5,5,5,4,2,1,0,1,1,2,2,2,2,2,2,2,2,2],
[3,3,3,4,4,3,4,8,7,3,-3,-4,-1,3,4,5,6,6,6,6,5,3,3,4,3,-3,-4,-2,2,3,4,5,6,5,3,2,1,1,1,2,2,3,3,3,3,3,3,3],
[2,3,3,3,3,3,4,7,6,2,-4,-4,-1,3,4,5,6,7,7,6,5,3,2,3,4,0,-4,-4,1,3,3,5,6,5,3,2,1,1,1,1,2,2,2,2,2,3,3,2],
[1,1,2,2,3,3,3,6,6,2,-3,-3,0,3,3,4,5,5,5,4,3,2,1,2,4,4,-2,-4,-3,2,3,4,5,5,4,2,1,0,1,1,1,2,2,2,3,3,3,4],
[2,2,2,2,2,3,3,5,6,2,-4,-5,-2,1,2,3,3,3,3,2,2,0,0,0,3,4,2,-4,-5,-1,2,3,4,4,4,3,2,1,1,0,0,1,1,1,1,2,2,2],
[4,4,4,4,4,4,4,7,8,3,-3,-5,-2,3,5,6,6,7,6,5,4,2,1,2,3,5,5,-3,-5,-3,3,4,6,7,7,5,4,4,3,3,3,3,3,3,3,3,3,3],
[3,3,3,3,3,3,3,6,7,2,-3,-4,-1,3,4,5,5,6,6,4,3,2,1,0,2,3,4,1,-4,-5,-1,3,4,5,6,5,4,2,1,1,1,1,1,1,2,2,2,2],
[3,3,3,3,3,3,3,5,6,2,-3,-3,-1,2,3,4,5,5,5,4,3,1,0,0,1,2,4,3,-3,-5,-3,2,3,4,5,5,4,3,2,2,1,1,1,1,1,2,2,1],
[2,2,2,2,3,3,3,6,7,2,-4,-4,-1,2,3,4,4,5,5,4,2,1,0,0,0,1,3,4,0,-5,-5,-1,2,3,4,5,6,5,3,2,2,1,1,0,1,1,1,2],
[3,4,4,4,3,3,4,8,9,3,-3,-4,-1,2,3,4,5,5,4,3,2,1,0,0,0,1,2,4,4,-3,-6,-3,2,3,4,5,6,5,4,3,2,2,2,2,2,2,2,3],
[4,4,4,4,4,4,4,7,7,3,-4,-4,-1,3,4,5,6,6,5,4,2,1,1,0,0,0,2,3,5,2,-5,-6,-2,3,3,4,5,7,7,5,4,3,3,3,3,3,3,4],
[2,2,1,1,2,2,3,6,7,2,-3,-4,-2,2,3,3,4,4,4,3,1,0,0,-1,-1,0,1,2,3,4,0,-5,-6,-3,2,3,3,4,4,5,5,4,3,2,2,1,1,2],
[2,1,1,1,1,2,3,7,7,2,-4,-5,-3,0,2,2,2,3,3,2,1,0,-1,-1,-1,-1,0,1,2,3,3,-1,-5,-5,-4,0,3,3,4,4,5,5,4,3,2,2,1,1],
[2,2,3,3,3,2,3,6,7,2,-4,-4,-3,1,2,3,3,3,2,1,0,0,-1,-1,0,0,0,0,1,1,2,3,2,-3,-5,-6,-4,0,3,3,3,4,4,4,4,3,2,2],
[3,3,3,3,3,3,3,6,6,2,-3,-4,-2,1,2,3,3,3,2,1,0,0,-1,-1,-1,0,0,0,0,0,1,1,2,3,2,-1,-4,-5,-5,-3,1,3,3,3,3,3,2,2],
[2,3,3,2,3,3,3,6,6,2,-3,-4,-1,2,3,4,5,5,4,3,1,1,0,0,0,-1,-1,0,0,-1,-1,0,1,1,1,2,3,3,2,2,2,0,-1,-3,-3,2,8,9],
[1,1,0,0,1,1,0,4,4,1,-3,-4,-3,0,1,1,2,2,1,0,-1,-2,-2,-3,-4,-3,-2,-2,-3,-2,-2,-2,-1,-1,-1,-1,-2,-2,-3,-4,-4,-3,-1,0,1,1,1,1],
];
const F_YTICKS = [1,500,999,1498,1997];
const F_CTICKS = [-5,0,5,10];

// ---------- G ----------
const G_CHANNELS = ["F4","O2","F8","PO4","P3","Fz","P7","FP2","FC4","PO8","FP1","F3","C5","P9","CPz","FCz","P10","F7","C3","PO7","Pz","FC3","PO3","Oz","Cz","P8","O1","C4","P4","C6"];
const G_CTICKS = [-0.5,0,0.5,1];
const G_ROWS = [
[0,-2,-3,-2,0,-2,0,3,2,3,5,3,0,-5,-12,-15,-12,-3,3,0,-3,-5,0,3,0,-5,-13,-15,-12,-5,0,3,6,10,12,13,13,12,14,14],
[2,0,0,-2,-2,0,2,2,0,-10,-10,-8,-5,-8,-8,-8,-8,-5,-5,-6,-3,3,2,-2,-5,-10,-10,-8,-8,-8,-8,-10,-8,-8,-5,-3,-3,-3],
[0,0,-3,-2,-2,-3,-2,0,10,14,12,2,-5,-10,-16,-28,-32,-25,-5,8,10,4,-5,-8,-10,-10,-12,-8,0,18,25,25,27,27,28,28,29,30],
[0,-3,-3,-2,-2,0,-2,0,-8,-18,-20,-15,-8,-8,-8,-3,5,10,8,-3,-8,-8,-5,2,5,3,-5,-6,-8,-15,-20,-24,-28,-22,-18,-14,-13,-13],
[0,-2,-3,-3,-2,0,-2,0,6,10,10,5,-3,-8,-10,-15,-20,-18,-5,2,3,-3,-6,-8,-7,-10,-12,-8,0,8,10,12,12,10,10,10,11,12],
[0,0,-2,-2,-2,0,2,-2,-5,-7,-8,-5,-5,-6,-8,-8,-3,-6,-8,-8,-5,-2,-2,-5,-8,-6,-6,-5,-3,-6,-8,-8,-8,-6,-6,-5,-4,-5],
[-2,-2,-3,-2,-2,-2,-3,-2,15,18,18,5,-12,-20,-30,-38,-38,-20,2,8,4,-6,-10,-15,-12,-15,-13,-10,10,25,28,30,30,28,28,30,32,28],
[0,-2,-2,-2,-2,0,-2,-2,-12,-18,-18,-10,2,3,8,20,22,18,-3,-14,-20,-8,2,2,2,-5,-10,-8,-12,-20,-26,-26,-20,-20,-18,-20,-20,-18],
[-2,-2,-2,-2,-2,-3,-3,-2,18,20,20,8,-8,-15,-28,-40,-38,-12,6,8,-2,-10,-18,-12,-6,-5,-3,0,22,40,42,42,35,30,30,32,35,35],
[-2,-2,-2,-2,-2,-2,-3,-2,-15,-25,-28,-15,0,4,15,22,28,25,2,-8,-10,-8,5,8,3,-5,-12,-10,-20,-38,-42,-40,-30,-25,-25,-25,-28,-24],
[0,-2,-2,-2,0,-2,-2,-2,-5,-5,-6,-5,-8,-12,-12,-14,-14,-12,-10,-10,-12,-14,-10,-12,-12,-14,-15,-12,-8,-6,-6,-5,-5,-6,-6,-6,-7,-8],
[0,-2,-2,-2,-2,0,-2,-3,10,15,16,5,-10,-18,-22,-28,-28,-20,-12,-10,-8,-14,-14,-18,-18,-16,-12,-10,4,12,15,18,18,10,8,6,6,5],
[0,-2,-2,-2,-2,-2,-3,-3,-8,-12,-14,-10,-3,-3,-5,-5,0,-5,-12,-26,-26,-10,-5,-5,-5,-10,-8,-10,-14,-16,-16,-14,-14,-14,-14,-14,-16,-16],
[-3,-2,-2,-2,-3,-3,-5,-5,22,32,38,15,-10,-20,-30,-42,-42,-25,0,-5,-10,-15,-18,-12,-10,-5,-8,-6,18,38,42,45,42,34,26,25,28,28],
[-3,-3,-2,-2,-2,-3,-3,-3,-18,-26,-28,-14,0,5,22,35,35,20,-5,-20,-25,-8,3,8,0,-8,-10,-8,-25,-30,-32,-32,-28,-20,-18,-18,-20,-20],
[-3,-2,-2,-3,-3,-3,-3,-3,28,42,46,15,-6,-20,-40,-46,-45,-22,0,-5,-5,-16,-24,-8,6,12,14,10,30,50,56,55,45,35,30,32,36,35],
[-2,-2,-2,-3,-3,-3,-3,-3,-28,-36,-36,-22,-3,5,28,45,45,28,-3,-8,-5,5,14,18,8,-16,-20,-12,-25,-45,-50,-50,-35,-24,-24,-28,-30,-26],
[-3,-2,-2,-2,-2,-3,-3,-3,14,18,20,8,-5,-8,-15,-22,-28,-24,-22,-16,-12,-12,-12,-12,-10,-10,-10,-8,5,15,20,22,18,12,6,4,2,2],
[-3,-2,-2,-2,-2,-3,-3,-3,-10,-12,-12,-10,-8,-5,-3,-5,-5,-8,-14,-25,-28,-12,-6,-8,-10,-14,-10,-8,-12,-16,-18,-18,-14,-14,-14,-14,-16,-16],
[-3,-2,-2,-2,-3,-3,-3,-3,20,35,35,8,-8,-15,-30,-42,-45,-40,-15,-8,-8,-12,-14,-10,-8,0,10,14,20,38,42,42,35,8,0,2,4,6],
[-3,-2,-2,-2,-2,-3,-3,-3,-22,-30,-28,-14,-5,2,25,42,42,25,-3,-15,-18,-5,12,18,10,-10,-15,-10,-20,-36,-38,-38,-28,-14,-14,-18,-20,-20],
[-3,-3,-3,-3,-3,-3,-3,-3,-5,-6,-6,-5,-5,-6,-10,-12,-16,-20,-24,-26,-22,-10,-8,-6,-6,-8,-8,-6,-8,-10,-10,-10,-10,-8,-8,-10,-10,-10],
[-3,-2,-2,-2,-2,-3,-3,-3,25,35,32,20,8,-2,-14,-30,-38,-38,-32,-18,-6,-6,-6,-6,-6,10,28,25,18,38,42,40,35,2,-2,-2,-2,-2],
[-3,-3,-2,-2,-2,-2,-3,-4,-10,-14,-16,-12,-8,-3,12,35,40,25,-8,-20,-15,-3,2,2,-5,-14,-15,-8,-16,-26,-30,-30,-22,-14,-12,-13,-15,-15],
[-3,-2,-2,-2,-2,-3,-3,-3,35,52,55,25,4,-6,-30,-52,-55,-45,-20,-10,-5,-15,-10,5,30,50,52,30,20,62,72,70,50,18,8,6,10,14],
[-3,-2,-2,-2,-2,-3,-3,-3,-38,-42,-44,-30,-5,0,40,70,75,55,-2,-12,-10,8,28,35,2,-24,-26,-10,-20,-48,-52,-50,-36,-14,-12,-16,-22,-18],
[-3,-2,-2,-2,-2,-2,-3,-3,-3,-4,-4,-3,-3,-3,-4,-4,-4,-4,-3,-3,-3,-3,-4,-4,-4,-4,-4,-4,-4,-4,-4,-4,-4,-4,-4,-5,-5,-5],
[-3,-2,-2,-2,-2,-3,-2,-3,30,46,48,18,2,-8,-38,-55,-62,-62,-30,-2,-2,-8,-6,-10,8,48,52,10,8,40,46,42,20,-8,-18,-22,-10,-6],
[-2,-2,-2,0,0,-2,-2,-2,-32,-40,-38,-22,0,5,45,85,105,95,30,-2,-5,15,35,10,-5,-14,-16,5,10,-30,-36,-30,-10,12,15,5,-6,-8],
[-3,-3,-3,-3,-3,-3,-3,-5,-6,-6,-5,-5,-3,0,5,10,14,14,4,-10,-12,-5,-5,-2,2,0,-6,-8,-10,-8,-8,-8,-8,-8,-10,-10,-12,-12],
];

// ---------- H (percent of each axis) ----------
const H_AXES = ["FP1","F3","F7","FC3","C3","C5","P3"];
const H_TOP_LABELS = ["~0.12","~0.10","~0.12","~0.12","~0.12","~0.11","~0.13"];
const H_TICKS = [
[0,13,25.9,41,56.3,71.5,86.8,93.4,100],[0,11.1,22.2,40.3,58.5,76.6,94.8,97.5,100],[0,10.8,21.7,36.9,52.2,67.6,82.9,91.5,100],
[0,14.2,28.2,42.5,56.8,71,85.4,92.7,100],[0,11.9,23.9,39.6,55.3,71,86.8,93.4,100],[0,8.7,17.5,35.2,52.9,70.8,88.5,94.3,100],[0,13.3,26.7,40.6,54.6,68.6,82.5,91.3,100],
];
const H_A = [
[6,3,9,13,14,3,10],[0,7,0,4,2,0,7],[2,2,1,1,2,0,0],[8,7,2,1,1,1,8],[10,4,7,12,16,6,24],[12,12,10,18,20,9,26],[14,5,3,14,15,4,19],[18,10,13,22,18,2,20],
[16,8,9,14,11,1,8],[20,14,16,25,23,6,30],[22,18,12,24,28,5,2],[24,16,20,32,25,4,26],[26,6,16,34,14,2,6],[18,22,12,20,30,8,14],[20,13,4,28,34,3,24],[28,18,26,30,27,4,22],
[30,14,22,42,33,10,28],[25,24,10,28,20,7,26],[32,20,30,36,40,12,25],[27,30,18,26,22,6,30],[21,11,24,44,35,14,29],[34,26,33,42,37,6,4],[36,22,28,39,30,8,26],[23,32,38,47,36,4,18],
[28,8,12,18,26,20,31],[40,30,18,26,44,18,28],[31,25,36,46,42,15,26],[29,19,21,34,38,12,33],[24,28,27,31,16,2,24],[44,36,42,48,46,30,40],[38,34,30,49,44,16,28],[19,27,35,38,32,6,3],
[33,12,5,16,22,9,12],[42,33,44,47,35,24,38],[35,18,15,36,41,26,26],[17,24,7,10,9,1,13],[15,20,25,30,12,3,6],[26,31,40,22,29,10,27],[30,23,11,20,33,22,36],[13,17,19,8,5,2,16],
[37,28,23,40,24,5,20],[46,32,47,50,47,36,43],[11,9,6,24,19,13,23],[22,26,34,44,28,7,1],[9,15,14,6,13,5,11],[25,21,29,37,21,3,27],[28,35,31,25,39,19,32],[33,29,37,48,31,8,25],
[20,16,1,5,8,0,15],[5,12,8,15,7,11,21],[27,10,20,33,36,17,28],[36,37,26,43,42,9,34],[23,19,32,27,18,1,5],[16,25,17,29,10,4,9],[29,33,41,35,26,14,26],[31,27,28,45,45,28,41],
[4,1,3,0,3,2,4],[7,5,2,3,0,1,2],
[14,20,24,38,30,22,20],[18,26,16,30,36,28,24],[24,12,18,26,24,18,30],[30,32,34,40,38,26,32],[12,15,22,34,28,15,18],[16,30,28,44,40,32,36],[34,22,14,24,18,14,22],[22,28,38,42,32,24,28],
[26,18,30,46,44,34,30],[38,24,20,36,26,12,16],[10,6,14,28,12,7,25],[32,36,24,32,34,20,27],[20,8,6,20,24,16,33],[28,30,43,50,41,30,35],[42,28,36,38,28,10,29],[19,22,26,18,15,11,12],
[35,16,11,22,20,5,23],[13,26,33,41,30,21,26],[25,34,45,47,37,27,31],[17,14,19,31,25,13,17],[29,20,8,12,17,9,28],[23,10,24,27,9,4,14],[41,38,32,45,43,23,37],[15,23,15,16,6,6,19],
[37,31,37,39,35,17,42],[21,5,13,9,4,8,22],[33,35,46,49,46,35,39],[11,19,10,7,11,3,7],[43,27,41,44,33,25,34],[27,17,22,33,27,19,44],
];
const H_B = [
[100,60,45,72,60,78,55],[88,96,72,58,80,42,66],[76,58,88,100,72,60,90],[92,74,98,84,100,64,72],[84,88,62,96,52,92,48],[64,99,78,58,88,72,92],[72,46,58,42,66,100,78],[68,76,92,70,42,84,58],
[80,56,34,64,92,54,100],[58,70,84,90,60,76,40],[66,42,70,52,78,88,62],[60,84,52,78,62,46,70],[52,64,74,46,84,68,82],[74,50,40,68,50,94,52],[56,62,60,88,70,36,76],[70,38,54,60,38,70,44],
[48,80,66,40,74,58,86],[62,34,82,74,56,82,34],[78,68,44,34,68,50,68],[44,72,56,82,46,74,56],[54,48,68,54,90,40,74],[50,58,30,66,54,62,30],[86,44,76,48,35,66,50],[40,66,48,76,76,34,64],
[57,30,62,38,58,56,80],[46,54,36,70,44,80,46],[65,40,50,30,64,44,24],[38,60,42,62,48,30,60],[42,36,64,50,30,52,38],[96,52,38,80,40,28,22],[35,46,80,44,72,38,54],[32,52,46,36,62,60,42],
[55,28,26,56,34,42,58],[30,44,34,24,52,24,36],[28,38,58,42,28,48,26],[34,24,28,28,42,20,48],[26,32,20,48,24,36,18],[36,20,44,20,56,18,32],[24,26,16,34,20,26,20],[22,40,24,16,36,16,28],
[30,18,32,26,26,12,34],[18,30,22,12,22,22,14],[33,14,38,14,32,10,12],[28,22,12,32,18,14,30],[20,34,18,18,30,30,10],[16,16,30,8,20,9,24],[37,12,14,22,46,32,8],[25,10,36,6,24,20,6],
[45,27,52,52,66,40,44],[82,90,86,66,94,76,60],[61,78,46,92,58,86,84],[15,8,10,4,19,8,16],[58,100,94,100,86,100,96],[94,86,100,86,98,90,88],[75,66,28,44,82,34,40],[43,55,70,60,49,58,52],
[70,62,56,74,64,70,60],[60,50,66,58,72,56,66],[78,70,60,66,58,62,70],[50,56,72,78,68,74,58],[66,82,64,52,60,52,62],[54,66,54,64,80,68,76],[72,60,78,86,54,48,50],[62,74,48,56,66,80,64],
[58,44,60,70,76,64,72],[84,58,68,62,70,44,46],[46,68,76,50,62,66,80],[68,52,42,68,52,58,54],[56,78,70,44,78,72,42],[74,48,58,82,48,54,68],[64,36,50,72,44,40,56],[52,42,64,60,74,50,38],
[42,50,44,40,56,60,44],[48,34,38,54,40,46,62],[38,46,56,36,50,34,34],[44,32,32,46,36,42,50],[36,40,52,30,46,26,28],[32,28,40,26,32,38,36],[28,36,24,42,38,22,42],[40,24,46,34,28,32,26],
[24,30,30,18,42,28,22],[20,22,36,38,24,18,32],[34,18,18,24,34,24,18],[26,26,28,20,26,14,24],[30,14,22,28,22,30,14],[18,20,14,10,30,12,30],[22,16,26,14,20,20,12],[90,64,82,94,74,96,74],
[98,92,74,76,96,82,94],[86,80,90,70,90,68,98],[76,94,96,90,84,88,68],[82,72,84,98,64,94,86],
];

// ---------- helpers ----------
function hexRgb(h: string) { return [parseInt(h.slice(1,3),16),parseInt(h.slice(3,5),16),parseInt(h.slice(5,7),16)]; }
function mix(a: string, b: string, f: number) {
  const A = hexRgb(a), B = hexRgb(b);
  return `rgb(${A.map((v,i)=>Math.round(v+(B[i]-v)*f)).join(",")})`;
}
function ramp(t: number) {
  const f = Math.max(0, Math.min(0.99999, t)) * (RDBU.length - 1);
  const i = Math.floor(f);
  return mix(RDBU[i], RDBU[i+1], f - i);
}
const ANGLE_STOPS: [number,string][] = [[-180,"#55a6cc"],[-150,"#7cc8d2"],[-120,"#9fd8cc"],[-95,"#d5e2a5"],[-80,"#d8dc98"],[-55,"#d4b35a"],[-25,"#c9a144"],[0,"#bd7f30"],[35,"#9a4f26"],[65,"#853030"],[95,"#6b3560"],[120,"#5d4a8c"],[140,"#4a6cae"],[180,"#55a6cc"]];
function electrodeColor(i: number) {
  const a = Math.atan2(ELEC_Y[i], ELEC_X[i]) * 180 / Math.PI;
  for (let k = 0; k < ANGLE_STOPS.length - 1; k++) {
    const [a0,c0] = ANGLE_STOPS[k], [a1,c1] = ANGLE_STOPS[k+1];
    if (a >= a0 && a <= a1) return mix(c0, c1, (a-a0)/(a1-a0));
  }
  return "#888888";
}

function buildOption() {
  const grids: any[] = [], xAxes: any[] = [], yAxes: any[] = [], series: any[] = [], gfx: any[] = [];
  const AXIS_COLOR = "#3d382e", PALE = "#f3e7dc";

  function addGrid(x: number, y: number, w: number, h: number) {
    grids.push({ left: x, top: y, width: w, height: h, containLabel: false });
    return grids.length - 1;
  }
  function hiddenX(g: number, min: number, max: number) {
    xAxes.push({ gridIndex: g, type: "value", show: false, min, max, scale: true });
    return xAxes.length - 1;
  }
  function hiddenY(g: number, min: number, max: number, inverse = false) {
    yAxes.push({ gridIndex: g, type: "value", show: false, min, max, inverse, scale: true });
    return yAxes.length - 1;
  }
  function shownX(g: number, min: number, max: number, ticks: number[], fmt: (v:number)=>string, name: string, gap: number) {
    xAxes.push({ gridIndex: g, type: "value", min, max, scale: true, position: "bottom",
      axisLine: { show: true, onZero: false, lineStyle: { color: AXIS_COLOR, width: 2.5 } },
      axisTick: { show: true, length: 6, lineStyle: { color: PALE, width: 2 }, customValues: ticks },
      axisLabel: { show: true, customValues: ticks, formatter: fmt, fontSize: 28, color: "#000", margin: 15, fontFamily: FONT, hideOverlap: false, showMinLabel: true, showMaxLabel: true },
      splitLine: { show: false }, name, nameLocation: "middle", nameGap: gap,
      nameTextStyle: { fontSize: 28, color: "#000", fontFamily: FONT } });
    return xAxes.length - 1;
  }
  function shownY(g: number, min: number, max: number, ticks: number[], fmt: (v:number)=>string, name: string, gap: number, inverse = false) {
    yAxes.push({ gridIndex: g, type: "value", min, max, inverse, scale: true, position: "left",
      axisLine: { show: true, onZero: false, lineStyle: { color: AXIS_COLOR, width: 2.5 } },
      axisTick: { show: true, length: 6, lineStyle: { color: PALE, width: 2 }, customValues: ticks },
      axisLabel: { show: true, customValues: ticks, formatter: fmt, fontSize: 28, color: "#000", margin: 15, fontFamily: FONT, hideOverlap: false, showMinLabel: true, showMaxLabel: true },
      splitLine: { show: false }, name, nameLocation: "middle", nameGap: gap,
      nameTextStyle: { fontSize: 28, color: "#000", fontFamily: FONT } });
    return yAxes.length - 1;
  }
  const minus = (s: string) => s.replace("-", "\u2212");

  function cells(xi: number, yi: number, data: number[][], vmin: number, vmax: number, z = 2) {
    series.push({
      type: "custom", coordinateSystem: "cartesian2d", xAxisIndex: xi, yAxisIndex: yi, data, z, silent: true, clip: true,
      encode: { x: [0,1], y: [2,3] },
      renderItem: (_: any, api: any) => {
        const a = api.coord([api.value(0), api.value(2)]), b = api.coord([api.value(1), api.value(3)]);
        return { type: "rect",
          shape: { x: Math.min(a[0],b[0]), y: Math.min(a[1],b[1]), width: Math.abs(b[0]-a[0]) + 0.7, height: Math.abs(b[1]-a[1]) + 0.7 },
          style: { fill: ramp((api.value(4) - vmin) / (vmax - vmin)) } };
      },
    });
  }
  function colorbar(x: number, y: number, w: number, h: number, min: number, max: number, ticks: number[], fmt: (v:number)=>string, gap: number) {
    const g = addGrid(x, y, w, h);
    const xi = hiddenX(g, 0, 1);
    yAxes.push({ gridIndex: g, type: "value", min, max, scale: true, position: "right",
      axisLine: { show: false },
      axisTick: { show: true, length: 10, lineStyle: { color: "#000", width: 2 }, customValues: ticks },
      axisLabel: { show: true, customValues: ticks, formatter: fmt, fontSize: 28, color: "#000", margin: 20, fontFamily: FONT, hideOverlap: false, showMinLabel: true, showMaxLabel: true },
      splitLine: { show: false }, name: "Voltage", nameLocation: "middle", nameRotate: -90, nameGap: gap,
      nameTextStyle: { fontSize: 28, color: "#000", fontFamily: FONT } });
    const yi = yAxes.length - 1;
    const stops = RDBU.map((c, i) => ({ offset: i / (RDBU.length - 1), color: RDBU[RDBU.length - 1 - i] }));
    series.push({ type: "custom", coordinateSystem: "cartesian2d", xAxisIndex: xi, yAxisIndex: yi, data: [[0,min,1,max]], silent: true, z: 3,
      encode: { x: [0,2], y: [1,3] },
      renderItem: (_: any, api: any) => {
        const a = api.coord([api.value(0), api.value(3)]), b = api.coord([api.value(2), api.value(1)]);
        return { type: "rect", shape: { x: a[0], y: a[1], width: b[0]-a[0], height: b[1]-a[1] },
          style: { fill: new echarts.graphic.LinearGradient(0,0,0,1,stops), stroke: "#111", lineWidth: 1.5 } };
      } });
  }
  function text(x: number, y: number, t: string, size = 28, opts: any = {}) {
    gfx.push({ type: "text", x, y, rotation: opts.rotation || 0, z: 40, silent: true,
      style: { text: t, fontSize: size, fontFamily: FONT, fontWeight: opts.bold ? "bold" : "normal", fill: "#000",
        align: opts.align || "center", verticalAlign: "middle" } });
  }
  function head(cx: number, cy: number, r: number, lw: number, earLw: number, noseFill: boolean, mask: number) {
    if (mask > 0) gfx.push({ type: "ring", shape: { cx, cy, r: r + mask, r0: r }, style: { fill: "#fff" }, z: 10, silent: true });
    gfx.push({ type: "circle", shape: { cx, cy, r }, style: { fill: "none", stroke: "#000", lineWidth: lw }, z: 12, silent: true });
    const nose = [[-0.103,-1.0],[0,-1.117],[0.105,-1.0]].map(([a,b]) => [cx+a*r, cy+b*r]);
    gfx.push({ type: noseFill ? "polygon" : "polyline", shape: { points: nose }, style: noseFill ? { fill: "#000" , stroke: "#000", lineWidth: lw*0.4 } : { fill: "none", stroke: "#000", lineWidth: earLw }, z: 12, silent: true });
    const ear = [[1.025,-0.167],[1.081,-0.132],[1.096,-0.069],[1.108,0.186],[1.072,0.265],[1.018,0.289],[0.969,0.22]];
    [-1,1].forEach((s) => gfx.push({ type: "polyline", shape: { points: ear.map(([a,b]) => [cx+s*a*r, cy+b*r]) },
      style: { fill: "none", stroke: "#000", lineWidth: earLw }, z: 12, silent: true }));
  }
  function topoData(rows: number[][]) {
    const n = rows.length, step = 2 / n, out: number[][] = [];
    rows.forEach((row, j) => {
      const start = (n - row.length) / 2;
      row.forEach((v, i) => {
        const x0 = -1 + (start + i) * step, y1 = 1 - j * step;
        out.push([x0, x0 + step, y1 - step, y1, v / 100]);
      });
    });
    return out;
  }

  // ===== letters =====
  ([["A",77,62],["B",1267,62],["C",77,755.6],["D",1267,755.6],["E",80,1449.7],["F",1272,1449.7],["G",74,2142.7],["H",1267,2142.7]] as [string,number,number][])
    .forEach(([t,x,y]) => text(x, y, t, 52, { bold: true, align: "left" }));

  // ===== A =====
  {
    const g = addGrid(151.2, 135.4, 705.8, 472.1);
    const xi = shownX(g, -0.0223, 0.461, [0,0.1,0.2,0.3,0.4], (v)=>v.toFixed(1), "Time", 52);
    const yi = shownY(g, -4.87, 7.19, [-2.5,0,2.5,5], (v)=>minus(v.toFixed(1)), "Voltage", 83);
    const band = (mean: number[], se: number[], col: string) => series.push({
      type: "custom", coordinateSystem: "cartesian2d", xAxisIndex: xi, yAxisIndex: yi, silent: true, z: 2,
      data: A_TIME.map((t,i)=>[t, mean[i]-se[i], mean[i]+se[i]]), encode: { x: 0, y: [1,2] },
      renderItem: (p: any, api: any) => {
        if (p.dataIndex !== 0) return null;
        const up = A_TIME.map((t,i)=>api.coord([t, mean[i]+se[i]]));
        const lo = A_TIME.map((t,i)=>api.coord([t, mean[i]-se[i]])).reverse();
        return { type: "polygon", shape: { points: up.concat(lo) }, style: { fill: col, opacity: 0.5 } };
      } });
    const line = (mean: number[], col: string) => series.push({ type: "line", xAxisIndex: xi, yAxisIndex: yi, data: A_TIME.map((t,i)=>[t,mean[i]]),
      symbol: "none", silent: true, z: 3, lineStyle: { color: col, width: 3.5 } });
    band(CAR_MEAN, CAR_SE, BLUE); band(FACE_MEAN, FACE_SE, ORANGE);
    line(CAR_MEAN, BLUE); line(FACE_MEAN, ORANGE);
    series[series.length-1].markLine = { silent: true, symbol: "none", label: { show: false }, lineStyle: { color: "#808080", width: 2.5, type: "solid" }, data: [{ xAxis: 0 }, { yAxis: 0 }] };
    text(907.5, 322, "Conditions", 28, { bold: true, align: "left" });
    gfx.push({ type: "rect", shape: { x: 928.2, y: 353.9, width: 39.5, height: 39.5 }, style: { fill: BLUE }, z: 30, silent: true });
    gfx.push({ type: "rect", shape: { x: 928.2, y: 399.9, width: 39.5, height: 39.5 }, style: { fill: ORANGE }, z: 30, silent: true });
    text(978.6, 375.6, "car", 28, { align: "left" });
    text(978.6, 421.1, "face", 28, { align: "left" });
  }

  // ===== B =====
  {
    const g = addGrid(1341.4, 135.4, 913.4, 472.1);
    const xi = shownX(g, -0.34, 0.5377, [-0.2,0,0.2,0.4], (v)=>v.toFixed(1), "Time", 52);
    const yi = shownY(g, -0.98, 1.483, [-0.5,0,0.5,1], (v)=>minus(v.toFixed(1)), "Voltage", 83);
    B_ROWS.forEach((row, k) => series.push({ type: "line", xAxisIndex: xi, yAxisIndex: yi, symbol: "none", silent: true, smooth: 0.45, z: 3,
      data: B_TIME.map((t,i)=>[t, row[i]/100]), lineStyle: { color: electrodeColor(B_CHANNEL[k]-1), width: 3 } }));
    series[series.length-1].markLine = { silent: true, symbol: "none", label: { show: false }, lineStyle: { color: "#808080", width: 2.5, type: "solid" }, data: [{ xAxis: 0 }, { yAxis: 0 }] };
    const r = 68.2, cx = 1550.5, cy = 254;
    head(cx, cy, r, 2.5, 2.5, false, 0);
    const ig = addGrid(cx-r, cy-r, 2*r, 2*r);
    const ix = hiddenX(ig, -1, 1), iy = hiddenY(ig, -1, 1);
    series.push({ type: "scatter", xAxisIndex: ix, yAxisIndex: iy, silent: true, z: 20, clip: false, symbolSize: 16,
      data: ELEC_X.map((x,i)=>({ value: [x/100, ELEC_Y[i]/100], itemStyle: { color: electrodeColor(i), borderColor: "#000", borderWidth: 1.3 } })) });
  }

  // ===== C =====
  {
    const r = 201.7, cx = 608.5, cy = 1072.9;
    const g = addGrid(cx-r, cy-r, 2*r, 2*r);
    const xi = hiddenX(g, -1, 1), yi = hiddenY(g, -1, 1);
    cells(xi, yi, topoData(C_TOPO), -0.81, 0.96);
    head(cx, cy, r, 9, 7, false, 24);
    C_CONTOURS.forEach((c) => series.push({ type: "line", xAxisIndex: xi, yAxisIndex: yi, symbol: "none", silent: true, smooth: 0.5, z: 15, clip: false,
      data: c.map(([zx,zy])=>[(zx-795)/263.5, (790-zy)/451.8]), lineStyle: { color: "#fff", width: 4.5, type: [1,11], cap: "round" } }));
    series.push({ type: "scatter", xAxisIndex: xi, yAxisIndex: yi, silent: true, z: 20, clip: false, symbolSize: 9,
      data: ELEC_X.map((x,i)=>[x/100, ELEC_Y[i]/100]), itemStyle: { color: "rgba(255,255,255,0)", borderColor: "#000", borderWidth: 2 } });
    text(608.5, 1325, "[340 ms]");
    colorbar(1041.5, 827.7, 24.5, 472.6, -0.81, 0.96, C_TICKS, (v)=>v.toFixed(2), 95);
  }

  // ===== D =====
  {
    const centers = [1412.5,1590.5,1767.4,1944.4,2123.3], r = 58.3, cy = 1067;
    [D_TOPO_1,D_TOPO_2,D_TOPO_3,D_TOPO_4,D_TOPO_5].forEach((rows, k) => {
      const cx = centers[k];
      const g = addGrid(cx-r, cy-r, 2*r, 2*r);
      const xi = hiddenX(g, -1, 1), yi = hiddenY(g, -1, 1);
      cells(xi, yi, topoData(rows), -0.533, 0.533);
      head(cx, cy, r, 8, 8, true, 16);
      series.push({ type: "scatter", xAxisIndex: xi, yAxisIndex: yi, silent: true, z: 11, symbolSize: 6,
        data: ELEC_X.map((x,i)=>[x/100, ELEC_Y[i]/100]), itemStyle: { color: "#fff" } });
      text(cx, 1161.9, D_LABELS[k]);
    });
    text(1727.9, 1224.1, "Time [ms]");
    text(1767.4, 1368.5, "time");
    colorbar(2230, 827.7, 24.7, 472.6, -0.533, 0.533, D_TICKS, (v)=>minus(v.toFixed(1)), 82);
  }

  // ===== E =====
  {
    const g = addGrid(0, 1420, 1200, 700);
    const xi = hiddenX(g, 0, 1568), yi = hiddenY(g, 0, 1568, true);
    const hz: any[] = [], vt: any[] = [];
    E_ORIGIN_X.forEach((x,i) => {
      const y = E_ORIGIN_Y[i];
      hz.push([x-10,y],[x+226,y],["-","-"]);
      vt.push([x,y-84],[x,y+40],["-","-"]);
    });
    series.push({ type: "line", xAxisIndex: xi, yAxisIndex: yi, symbol: "none", silent: true, z: 2, data: hz, lineStyle: { color: "#8a8a8a", width: 2 } });
    series.push({ type: "line", xAxisIndex: xi, yAxisIndex: yi, symbol: "none", silent: true, z: 2, data: vt, lineStyle: { color: "#8a8a8a", width: 1.2 } });
    const gain = 1.3;
    E_TRACES.forEach((tr,i) => {
      const x = E_ORIGIN_X[i], y = E_ORIGIN_Y[i];
      const pts = E_BASELINE_T.map((t,k)=>[x+t*218, y-E_BASELINE[k]]).concat(E_POST_T.map((t,k)=>[x+t*218, y-tr[k]*gain]));
      series.push({ type: "line", xAxisIndex: xi, yAxisIndex: yi, symbol: "none", silent: true, smooth: 0.4, z: 3, data: pts, lineStyle: { color: "#009BCB", width: 3 } });
    });
    gfx.push({ type: "polyline", shape: { points: [[167,1895],[167,1969.2],[259,1969.2]] }, style: { fill: "none", stroke: "#000", lineWidth: 2.5 }, z: 30, silent: true });
    gfx.push({ type: "polygon", shape: { points: [[167,1884.6],[159,1898.4],[175,1898.4]] }, style: { fill: "#000" }, z: 30, silent: true });
    gfx.push({ type: "polygon", shape: { points: [[267.9,1969.2],[254,1960.7],[254,1977.5]] }, style: { fill: "#000" }, z: 30, silent: true });
    text(153.2, 1946.9, "\u00b5V", 24, { rotation: Math.PI/2 });
    text(211.5, 1984.4, "Time", 24);
  }

  // ===== F =====
  {
    const g = addGrid(1341.4, 1523.8, 852.1, 474.1);
    const xi = shownX(g, -0.1055, 1.004, [0,0.5,1], (v)=>v.toFixed(1), "Time", 52);
    const yi = shownY(g, 1, 1997, F_YTICKS, (v)=>String(Math.round(v)), "Trials", 89);
    const data: number[][] = [];
    const dx = 1.1095 / 48, dy = 1996 / F_TRIALS.length;
    F_TRIALS.forEach((row, r) => row.forEach((v, c) => data.push([-0.1055 + c*dx, -0.1055 + (c+1)*dx, 1 + r*dy, 1 + (r+1)*dy, v])));
    cells(xi, yi, data, -7.33, 12.06);
    colorbar(2230, 1523.8, 24.7, 474.1, -7.33, 12.06, F_CTICKS, (v)=>minus(String(v)), 61);
  }

  // ===== G =====
  {
    const g = addGrid(151.2, 2215.4, 855.1, 472);
    const xi = shownX(g, -0.302, 1.202, [0,0.5,1], (v)=>v.toFixed(1), "Time", 52);
    const centres = G_CHANNELS.map((_,i)=>i+0.5);
    const fmt = (v: number) => G_CHANNELS[Math.floor(v)];
    const yi = shownY(g, 0, G_CHANNELS.length, centres, fmt, "Channels", 84, true);
    // every second channel label lives on a twin axis, because an axis drops labels that collide with its first and last ones
    const main = yAxes[yi];
    yAxes.push({ ...main, name: "", axisLine: { show: false }, axisTick: { show: false },
      axisLabel: { ...main.axisLabel, customValues: centres.filter((_,i)=>i%2===1) } });
    main.axisLabel.customValues = centres.filter((_,i)=>i%2===0);
    const edges: number[] = [];
    for (let k = 0; k < 8; k++) edges.push(-0.302 + k*0.08525);
    for (let k = 0; k <= 30; k++) edges.push(0.38 + k*0.02740);
    const data: number[][] = [];
    G_ROWS.forEach((row, r) => row.forEach((v, c) => data.push([edges[c], edges[c+1], r, r+1, v/100])));
    cells(xi, yi, data, -0.618, 1.035);
    colorbar(1041.5, 2215.4, 24.5, 473, -0.618, 1.035, G_CTICKS, (v)=>minus(v.toFixed(1)), 87);
  }

  // ===== H =====
  {
    const dxAxis = (2047.9-1341.4)/6;
    const g = addGrid(1341.4, 2215.4, 706.5, 472);
    const xi = hiddenX(g, 0, 6);
    const yi = yAxes.length;
    H_AXES.forEach((name, k) => {
      yAxes.push({ gridIndex: g, type: "value", min: 0, max: 100, position: "left", offset: -k*dxAxis,
        axisLine: { show: true, onZero: false, lineStyle: { color: "#000", width: 2 } },
        axisTick: { show: true, length: 12, lineStyle: { color: "#000", width: 2 }, customValues: H_TICKS[k] },
        axisLabel: { show: true, customValues: [0,100], formatter: (v:number)=> v > 50 ? H_TOP_LABELS[k] : "~-0.0", fontSize: 28, color: "#000", margin: 19, fontFamily: FONT, hideOverlap: false, showMinLabel: true, showMaxLabel: true },
        splitLine: { show: false }, name, nameLocation: "end", nameGap: 5, nameTextStyle: { fontSize: 28, color: "#000", fontFamily: FONT } });
    });
    const add = (rows: number[][], col: string) => rows.forEach((row) => series.push({ type: "line", xAxisIndex: xi, yAxisIndex: yi, symbol: "none", silent: true, z: 3,
      data: row.map((v,i)=>[i,v]), lineStyle: { color: col, width: 4, opacity: 0.36 } }));
    add(H_A, BLUE); add(H_B, ORANGE);
    text(2096.6, 2401.7, "Conditions", 28, { bold: true, align: "left" });
    gfx.push({ type: "line", shape: { x1: 2133.7, y1: 2452.6, x2: 2175.7, y2: 2452.6 }, style: { stroke: BLUE, lineWidth: 4 }, z: 30, silent: true });
    gfx.push({ type: "line", shape: { x1: 2133.7, y1: 2498.9, x2: 2175.7, y2: 2498.9 }, style: { stroke: ORANGE, lineWidth: 4 }, z: 30, silent: true });
    text(2185.6, 2452.6, "A", 28, { align: "left" });
    text(2185.6, 2498.9, "B", 28, { align: "left" });
  }

  return { animation: false, backgroundColor: "#fff", textStyle: { fontFamily: FONT }, grid: grids, xAxis: xAxes, yAxis: yAxes, series, graphic: { elements: gfx } };
}

export default function App() {
  const ref = useRef<HTMLDivElement>(null);
  useEffect(() => {
    if (!ref.current) return;
    const chart = echarts.init(ref.current, undefined, { renderer: "svg" });
    chart.setOption(buildOption() as any);
    return () => chart.dispose();
  }, []);
  return <div ref={ref} style={{ position: "absolute", left: 0, top: 0, width: 2400, height: 2800 }} />;
}
